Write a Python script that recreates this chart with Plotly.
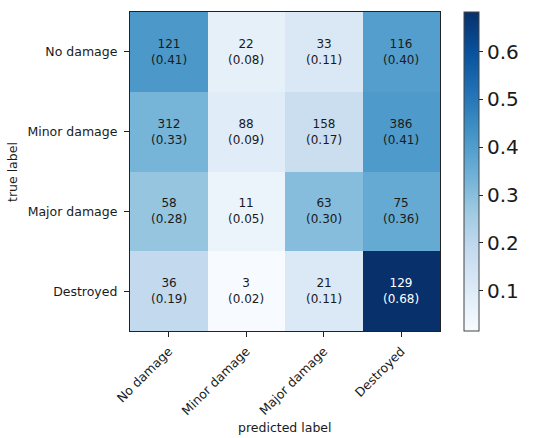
import numpy as np
import plotly.graph_objects as go

# Damage classes used on both axes
classes = ["No damage", "Minor damage", "Major damage", "Destroyed"]

# Confusion matrix counts: rows = true label, columns = predicted label
row_no_damage = [121, 22, 33, 116]
row_minor_damage = [312, 88, 158, 386]
row_major_damage = [58, 11, 63, 75]
row_destroyed = [36, 3, 21, 129]

counts = np.array([row_no_damage, row_minor_damage, row_major_damage, row_destroyed])
normed = counts / counts.sum(axis=1, keepdims=True)

# matplotlib "Blues" colormap
blues = [
    [0.0, "#f7fbff"], [0.125, "#deebf7"], [0.25, "#c6dbef"], [0.375, "#9ecae1"],
    [0.5, "#6baed6"], [0.625, "#4292c6"], [0.75, "#2171b5"], [0.875, "#08519c"],
    [1.0, "#08306b"],
]

FONT = "DejaVu Sans"
TXT = "#1a1a1a"

fig = go.Figure()
fig.add_trace(go.Heatmap(
    z=normed,
    x=classes,
    y=classes,
    colorscale=blues,
    zmin=normed.min(),
    zmax=normed.max(),
    hoverinfo="skip",
    xgap=0, ygap=0,
    colorbar=dict(
        x=(464 - 130) / 310, xanchor="left", xpad=0,
        y=0, yanchor="bottom", len=1, lenmode="fraction", ypad=0,
        thickness=15, thicknessmode="pixels",
        outlinewidth=1, outlinecolor="#444444",
        tickmode="array", tickvals=[0.1, 0.2, 0.3, 0.4, 0.5, 0.6],
        ticktext=["0.1", "0.2", "0.3", "0.4", "0.5", "0.6"],
        ticks="outside", ticklen=4, tickcolor="#222222",
        tickfont=dict(family=FONT, size=20, color=TXT),
    ),
))

# Cell annotations: count with row-normalised fraction beneath
for i, true_lbl in enumerate(classes):
    for j, pred_lbl in enumerate(classes):
        v = normed[i, j]
        fig.add_annotation(
            x=pred_lbl, y=true_lbl, xref="x", yref="y",
            text=f"{counts[i, j]}<br>({v:.2f})",
            showarrow=False,
            font=dict(family=FONT, size=12, color="white" if v > 0.5 else TXT),
        )

# Axis titles
fig.add_annotation(
    x=0.5, y=(331 - 427) / 319, xref="paper", yref="paper",
    xanchor="center", yanchor="middle",
    text="predicted label", showarrow=False,
    font=dict(family=FONT, size=12.5, color=TXT),
)
fig.add_annotation(
    x=(13 - 130) / 310, y=(331 - 172) / 319, xref="paper", yref="paper",
    xanchor="center", yanchor="middle",
    text="true label", showarrow=False, textangle=-90,
    font=dict(family=FONT, size=12.5, color=TXT),
)

fig.update_xaxes(
    type="category", tickangle=-45,
    showline=True, linecolor="#222222", linewidth=1.2, mirror=True,
    ticks="outside", ticklen=5, tickcolor="#222222",
    ticklabelstandoff=2,
    tickfont=dict(family=FONT, size=12.5, color=TXT),
    showgrid=False, zeroline=False,
)
fig.update_yaxes(
    type="category", autorange="reversed",
    showline=True, linecolor="#222222", linewidth=1.2, mirror=True,
    ticks="outside", ticklen=5, tickcolor="#222222",
    ticklabelstandoff=4,
    tickfont=dict(family=FONT, size=12.5, color=TXT),
    showgrid=False, zeroline=False,
)

fig.update_layout(
    width=536, height=438,
    margin=dict(l=130, r=96, t=12, b=107),
    paper_bgcolor="white", plot_bgcolor="white",
    showlegend=False,
)

fig.write_html("out.html")
